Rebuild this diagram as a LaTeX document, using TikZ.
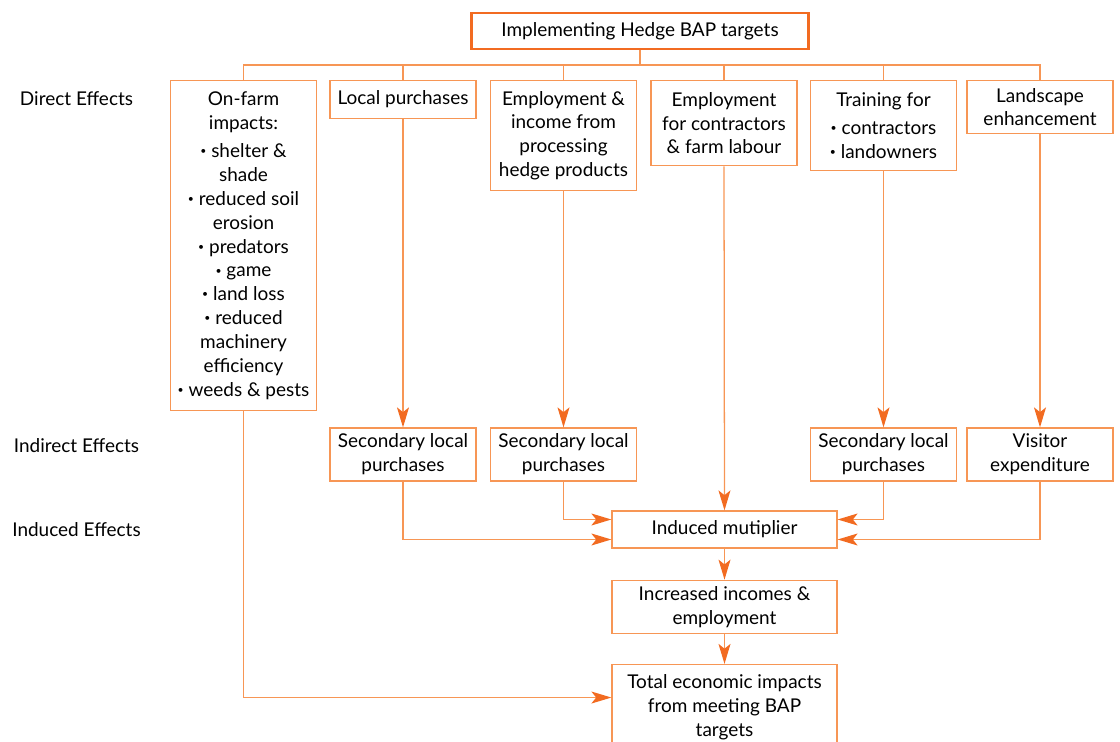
\documentclass[tikz,border=0pt]{standalone}
\usepackage{fontspec}
\setmainfont{Lato}
\usetikzlibrary{arrows.meta}
\usetikzlibrary{positioning}

\definecolor{hedgeorange}{RGB}{242,107,33}
\definecolor{boxorange}{RGB}{247,150,85}

\newcommand{\hedgebul}{\raisebox{0.3ex}{\scalebox{0.55}{•}}}

\tikzset{
  effbox/.style={draw=boxorange,line width=0.9pt,minimum width=3.65cm,align=center,inner sep=2pt,font=\fontsize{13.5}{17}\selectfont},
  conn/.style={draw=boxorange,line width=0.9pt},
  arr/.style={conn,-{Stealth[length=0.5cm,width=0.3cm,inset=0.12cm,color=hedgeorange]}},
  level/.style={font=\fontsize{13.5}{17}\selectfont}
}

\begin{document}
\begin{tikzpicture}
\clip (0,0) rectangle (28,18.525);

\node[effbox,draw=hedgeorange,line width=1.5pt,minimum width=8.425cm,minimum height=0.9cm] (top) at (16,17.75) {Implementing Hedge BAP targets};
\coordinate (bus) at (0,16.9);

\node[level] (direct) at (1.9125,16.05) {Direct Effects};
\node[level] (indirect) at (1.9125,7.375) {Indirect Effects};
\node[level] (induced) at (1.9125,5.275) {Induced Effects};

\node[effbox,anchor=north,minimum height=8.25cm] (onfarm) at (6.0875,16.525) {On-farm\\impacts:\\[3pt] \hedgebul{} shelter \&\\shade\\\hedgebul{} reduced soil\\erosion\\\hedgebul{} predators\\\hedgebul{} game\\\hedgebul{} land loss\\\hedgebul{} reduced\\machinery\\efficiency\\\hedgebul{} weeds \& pests};
\node[effbox,anchor=north,minimum height=0.95cm] (local) at (10.075,16.525) {Local purchases};
\node[effbox,anchor=north,minimum height=2.75cm] (emp) at (14.0875,16.525) {Employment \&\\income from\\processing\\hedge products};
\node[effbox,anchor=north,minimum height=2.125cm] (contr) at (18.1,16.525) {Employment\\for contractors\\\& farm labour};
\node[effbox,anchor=north,minimum height=2.25cm] (train) at (22.0875,16.525) {Training for\\[3pt] \hedgebul{} contractors\\\hedgebul{} landowners};
\node[effbox,anchor=north,minimum height=1.325cm] (land) at (26.0,16.525) {Landscape\\enhancement};

\node[effbox,minimum height=1.325cm] (sec1) at (10.075,7.1625) {Secondary local\\purchases};
\node[effbox,minimum height=1.325cm] (sec2) at (14.0875,7.1625) {Secondary local\\purchases};
\node[effbox,minimum height=1.325cm] (sec3) at (22.0875,7.1625) {Secondary local\\purchases};
\node[effbox,minimum height=1.325cm] (visit) at (26.0,7.1625) {Visitor\\expenditure};

\node[effbox,minimum width=5.625cm,minimum height=0.925cm] (mult) at (18.1125,5.2875) {Induced mutiplier};
\node[effbox,minimum width=5.625cm,minimum height=1.325cm,below=0.775cm of mult] (incr) {Increased incomes \&\\employment};
\node[effbox,minimum width=5.625cm,minimum height=2.15cm,below=0.75cm of incr] (total) {Total economic impacts\\from meeting BAP\\targets};

\draw[conn] (top.south) -- (top.south |- bus);
\draw[conn] (onfarm.north) -- (onfarm.north |- bus) -- (land.north |- bus) -- (land.north);
\foreach \b in {local,emp,contr,train}
  \draw[conn] (\b.north) -- (\b.north |- bus);

\draw[arr] (local.south) -- (sec1.north);
\draw[arr] (emp.south) -- (sec2.north);
\draw[arr] (train.south) -- (sec3.north);
\draw[arr] (land.south) -- (visit.north);
\draw[arr] (contr.south) -- (mult.north);

\draw[arr] (sec2.south) |- ([yshift=0.25cm]mult.west);
\draw[arr] (sec1.south) |- ([yshift=-0.25cm]mult.west);
\draw[arr] (sec3.south) |- ([yshift=0.25cm]mult.east);
\draw[arr] (visit.south) |- ([yshift=-0.25cm]mult.east);

\draw[arr] (mult.south) -- (incr.north);
\draw[arr] (incr.south) -- (total.north);
\draw[arr] (onfarm.south) |- ([yshift=0.25cm]total.west);

\end{tikzpicture}
\end{document}
